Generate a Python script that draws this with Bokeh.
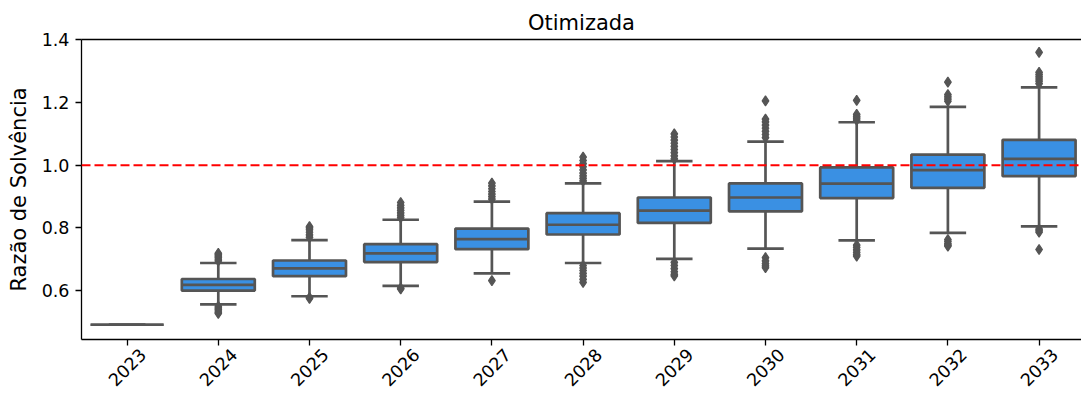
from math import pi

from bokeh.embed import file_html
from bokeh.models import (FixedTicker, LinearAxis, PrintfTickFormatter,
                          Range1d, Span)
from bokeh.plotting import figure
from bokeh.resources import INLINE

# Projeção da razão de solvência por ano (cenário otimizado)
anos = ["2023", "2024", "2025", "2026", "2027", "2028",
        "2029", "2030", "2031", "2032", "2033"]
q1 = [0.491, 0.600, 0.646, 0.691, 0.732, 0.779, 0.816, 0.853, 0.895, 0.928, 0.965]
mediana = [0.491, 0.618, 0.671, 0.719, 0.764, 0.810, 0.855, 0.897, 0.941, 0.984, 1.020]
q3 = [0.491, 0.637, 0.696, 0.748, 0.798, 0.847, 0.897, 0.942, 0.993, 1.034, 1.081]
bigode_inf = [0.491, 0.556, 0.582, 0.615, 0.655, 0.688, 0.701, 0.734, 0.760, 0.784, 0.805]
bigode_sup = [0.491, 0.688, 0.761, 0.826, 0.884, 0.942, 1.013, 1.075, 1.137, 1.186, 1.248]

outliers = [
    [],
    [0.695, 0.700, 0.705, 0.710, 0.715, 0.719, 0.550, 0.545, 0.540, 0.535, 0.530, 0.527],
    [0.770, 0.778, 0.786, 0.794, 0.800, 0.804, 0.578, 0.575],
    [0.833, 0.840, 0.848, 0.856, 0.864, 0.872, 0.881, 0.608, 0.605],
    [0.892, 0.900, 0.908, 0.916, 0.925, 0.934, 0.943, 0.632],
    [0.950, 0.958, 0.966, 0.975, 0.985, 0.995, 1.005, 1.015, 1.026,
     0.680, 0.672, 0.664, 0.655, 0.646, 0.636, 0.626],
    [1.020, 1.030, 1.040, 1.050, 1.060, 1.070, 1.080, 1.090, 1.100,
     0.690, 0.680, 0.670, 0.660, 0.652, 0.647],
    [1.205, 1.147, 1.138, 1.128, 1.118, 1.108, 1.098, 1.088,
     0.705, 0.695, 0.686, 0.679, 0.673],
    [1.207, 1.162, 1.156, 1.150, 1.144, 0.745, 0.738, 0.730, 0.722, 0.715, 0.710],
    [1.265, 1.225, 1.218, 1.211, 1.204, 0.763, 0.757, 0.750, 0.745, 0.742],
    [1.360, 1.296, 1.289, 1.282, 1.275, 1.268, 1.260, 0.796, 0.791, 0.786, 0.731],
]

limite = 1.0
yticks = [0.6, 0.8, 1.0, 1.2, 1.4]
x_min, x_max = -0.5, 10.465
y_min, y_max = 0.444, 1.401

FONT = "DejaVu Sans"
TICK_FS = "17.5px"
BOX_FILL = "#3A90E3"
EDGE = "#555555"
LW = 2.7
BOX_W = 0.8
# rotated year labels are anchored at their end; shift them so each label
# sits centred under its tick
LABEL_SHIFT = 0.172

idx = list(range(len(anos)))

p = figure(width=1081, height=397, output_backend="svg", toolbar_location=None,
           x_range=Range1d(x_min, x_max), y_range=Range1d(y_min, y_max),
           min_border_left=81, min_border_right=0, min_border_top=39,
           min_border_bottom=58, title="Otimizada")
p.extra_x_ranges = {"rotulos": Range1d(x_min - LABEL_SHIFT, x_max - LABEL_SHIFT)}
p.grid.visible = False
p.outline_line_color = None
p.background_fill_color = "white"
p.border_fill_color = "white"

p.title.align = "center"
p.title.text_font = FONT
p.title.text_font_size = "21px"
p.title.text_font_style = "normal"
p.title.text_color = "black"
p.title.standoff = 10

# whiskers and caps
p.segment(x0=idx, y0=q3, x1=idx, y1=bigode_sup, line_color=EDGE, line_width=LW)
p.segment(x0=idx, y0=q1, x1=idx, y1=bigode_inf, line_color=EDGE, line_width=LW)
cap = BOX_W / 4
p.segment(x0=[i - cap for i in idx], y0=bigode_sup, x1=[i + cap for i in idx],
          y1=bigode_sup, line_color=EDGE, line_width=LW)
p.segment(x0=[i - cap for i in idx], y0=bigode_inf, x1=[i + cap for i in idx],
          y1=bigode_inf, line_color=EDGE, line_width=LW)

# boxes and medians
p.vbar(x=idx, top=q3, bottom=q1, width=BOX_W, fill_color=BOX_FILL,
       line_color=EDGE, line_width=LW)
half = BOX_W / 2
p.segment(x0=[i - half for i in idx], y0=mediana, x1=[i + half for i in idx],
          y1=mediana, line_color=EDGE, line_width=LW)

# outliers
fx, fy = [], []
for i, vals in enumerate(outliers):
    fx.extend([i] * len(vals))
    fy.extend(vals)
p.scatter(x=fx, y=fy, marker="diamond", size=10, fill_color=EDGE,
          line_color=EDGE, line_width=1.2)

# reference level
p.add_layout(Span(location=limite, dimension="width", line_color="red",
                  line_width=2, line_dash="9 4"))

# y axis
p.yaxis.ticker = FixedTicker(ticks=yticks)
p.yaxis.formatter = PrintfTickFormatter(format="%.1f")
p.yaxis.axis_label = "Razão de Solvência"
p.yaxis.axis_label_text_font = FONT
p.yaxis.axis_label_text_font_size = "21px"
p.yaxis.axis_label_text_font_style = "normal"
p.yaxis.axis_label_text_color = "black"
p.yaxis.axis_label_standoff = 8
p.yaxis.major_label_text_font_size = TICK_FS
p.yaxis.major_label_standoff = 6

# x axis: spine and ticks only
p.xaxis.ticker = FixedTicker(ticks=idx)
p.xaxis.major_label_overrides = {i: "" for i in idx}
p.xaxis.major_label_standoff = 0

for ax in (p.xaxis[0], p.yaxis[0]):
    ax.major_label_text_font = FONT
    ax.major_label_text_color = "black"
    ax.major_tick_out = 6
    ax.major_tick_in = 0
    ax.minor_tick_line_color = None
    ax.major_tick_line_color = "black"
    ax.major_tick_line_width = 1.3
    ax.axis_line_color = "black"
    ax.axis_line_width = 1.3

# year labels, rotated 45 degrees
rot = LinearAxis(x_range_name="rotulos", ticker=FixedTicker(ticks=idx),
                 major_label_overrides={i: a for i, a in zip(idx, anos)},
                 major_label_orientation=pi / 4, major_label_standoff=6,
                 major_label_text_font=FONT, major_label_text_font_size=TICK_FS,
                 major_label_text_color="black", axis_line_color=None,
                 major_tick_line_color=None, minor_tick_line_color=None,
                 major_tick_out=0, major_tick_in=0)
p.add_layout(rot, "below")

# top spine
top = LinearAxis(ticker=FixedTicker(ticks=[]), axis_line_color="black",
                 axis_line_width=1.3, major_tick_line_color=None,
                 minor_tick_line_color=None, major_tick_out=0, major_tick_in=0)
p.add_layout(top, "above")

open("out.html", "w").write(file_html(p, INLINE))
